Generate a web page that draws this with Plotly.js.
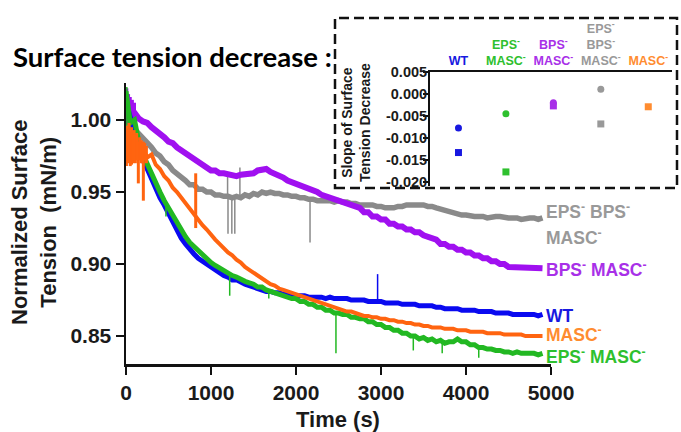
<!DOCTYPE html>
<html>
<head>
<meta charset="utf-8">
<script src="https://cdn.plot.ly/plotly-3.0.1.min.js"></script>
<style>html,body{margin:0;padding:0;background:#fff;}#chart{width:681px;height:432px;}</style>
</head>
<body>
<div id="chart"></div>
<script>
// ---------- main chart data ----------
const timeS = [0,50,100,150,200,250,300,350,400,450,500,550,600,650,700,750,800,850,900,950,
1000,1050,1100,1150,1200,1250,1300,1350,1400,1450,1500,1550,1600,1650,1700,1750,1800,1850,1900,1950,
2000,2050,2100,2150,2200,2250,2300,2350,2400,2450,2500,2550,2600,2650,2700,2750,2800,2850,2900,2950,
3000,3050,3100,3150,3200,3250,3300,3350,3400,3450,3500,3550,3600,3650,3700,3750,3800,3850,3900,3950,
4000,4050,4100,4150,4200,4250,4300,4350,4400,4450,4500,4550,4600,4650,4700,4750,4800,4850,4900];

const epsBpsMasc = [1.000,0.997,0.994,0.991,0.988,0.984,0.981,0.977,0.975,0.971,0.969,0.965,0.963,0.960,0.958,0.955,0.955,0.952,0.952,0.950,
0.950,0.948,0.948,0.947,0.947,0.946,0.947,0.946,0.948,0.947,0.949,0.948,0.950,0.949,0.950,0.949,0.949,0.948,0.948,0.947,
0.947,0.946,0.946,0.945,0.945,0.944,0.944,0.944,0.944,0.943,0.944,0.943,0.943,0.942,0.942,0.941,0.941,0.941,0.941,0.940,
0.940,0.939,0.939,0.939,0.940,0.940,0.941,0.941,0.941,0.941,0.941,0.940,0.940,0.939,0.938,0.937,0.936,0.935,0.935,0.934,
0.934,0.933,0.933,0.933,0.933,0.932,0.933,0.933,0.933,0.932,0.932,0.932,0.932,0.931,0.932,0.932,0.932,0.931,0.932];

const bpsMasc = [1.012,1.006,1.005,1.001,0.999,0.998,0.995,0.993,0.990,0.988,0.985,0.984,0.981,0.979,0.976,0.975,0.972,0.971,0.968,0.967,
0.965,0.965,0.963,0.963,0.962,0.962,0.961,0.962,0.962,0.963,0.963,0.965,0.965,0.966,0.964,0.963,0.961,0.960,0.958,0.957,
0.955,0.955,0.953,0.953,0.951,0.950,0.948,0.947,0.945,0.945,0.943,0.943,0.941,0.941,0.939,0.939,0.936,0.936,0.933,0.933,
0.931,0.931,0.928,0.928,0.926,0.926,0.924,0.924,0.922,0.922,0.920,0.919,0.917,0.917,0.914,0.914,0.912,0.912,0.910,0.910,
0.908,0.908,0.906,0.906,0.904,0.904,0.902,0.902,0.900,0.900,0.898,0.898,0.897,0.897,0.897,0.897,0.897,0.897,0.897];

const wt = [1.012,1.002,0.993,0.982,0.972,0.966,0.959,0.953,0.946,0.941,0.935,0.929,0.923,0.918,0.914,0.910,0.907,0.904,0.902,0.899,
0.897,0.895,0.894,0.892,0.891,0.889,0.889,0.887,0.886,0.885,0.884,0.883,0.882,0.881,0.881,0.880,0.880,0.879,0.879,0.878,
0.878,0.878,0.878,0.877,0.877,0.877,0.877,0.876,0.877,0.876,0.876,0.876,0.876,0.875,0.875,0.875,0.875,0.874,0.874,0.874,
0.874,0.873,0.873,0.873,0.873,0.872,0.872,0.872,0.872,0.871,0.871,0.871,0.871,0.870,0.870,0.869,0.869,0.869,0.869,0.868,
0.868,0.868,0.868,0.867,0.867,0.867,0.867,0.866,0.866,0.866,0.866,0.865,0.865,0.865,0.865,0.865,0.865,0.864,0.865];

const epsMasc = [1.020,0.998,1.000,0.985,0.976,0.969,0.962,0.955,0.950,0.944,0.939,0.933,0.928,0.923,0.919,0.915,0.912,0.909,0.906,0.904,
0.901,0.899,0.897,0.896,0.894,0.892,0.891,0.889,0.888,0.887,0.886,0.884,0.884,0.882,0.881,0.880,0.879,0.878,0.877,0.876,
0.876,0.874,0.874,0.872,0.872,0.870,0.870,0.868,0.868,0.866,0.866,0.865,0.865,0.863,0.863,0.862,0.862,0.860,0.860,0.858,
0.858,0.856,0.856,0.854,0.854,0.852,0.852,0.850,0.850,0.848,0.849,0.847,0.848,0.846,0.847,0.845,0.846,0.846,0.848,0.846,
0.846,0.844,0.844,0.842,0.842,0.841,0.841,0.840,0.840,0.839,0.839,0.838,0.839,0.838,0.838,0.838,0.838,0.837,0.838];

const masc = [0.990,0.980,0.985,0.975,0.980,0.974,0.976,0.969,0.966,0.961,0.958,0.953,0.950,0.946,0.942,0.938,0.934,0.931,0.927,0.924,
0.920,0.917,0.914,0.911,0.908,0.906,0.903,0.901,0.898,0.896,0.894,0.892,0.890,0.888,0.886,0.885,0.883,0.882,0.881,0.880,
0.879,0.878,0.877,0.876,0.875,0.874,0.873,0.872,0.871,0.870,0.869,0.868,0.867,0.867,0.866,0.865,0.864,0.864,0.863,0.863,
0.862,0.862,0.861,0.861,0.860,0.860,0.859,0.859,0.858,0.858,0.857,0.857,0.856,0.856,0.856,0.855,0.855,0.855,0.854,0.854,
0.854,0.853,0.853,0.853,0.853,0.852,0.852,0.852,0.852,0.851,0.851,0.851,0.851,0.851,0.850,0.850,0.850,0.850,0.850];

// short vertical excursions (spikes / early noise)
const epsBpsMascSpikeT = [1195,1195,null,1200,1200,null,1245,1245,null,1280,1280,null,1340,1340,null,2165,2165];
const epsBpsMascSpikeV = [0.962,0.947,null,0.947,0.921,null,0.947,0.921,null,0.947,0.921,null,0.947,0.967,null,0.946,0.915];
const bpsMascSpikeT = [10,10,null,30,30,null,50,50,null,75,75,null,100,100];
const bpsMascSpikeV = [0.997,1.022,null,0.998,1.018,null,0.996,1.016,null,0.996,1.014,null,0.997,1.012];
const wtSpikeT = [2960,2960];
const wtSpikeV = [0.875,0.893];
const epsMascSpikeT = [10,10,null,470,470,null,1220,1220,null,1680,1680,null,2470,2470,null,3380,3380,null,3720,3720,null,4150,4150];
const epsMascSpikeV = [0.995,1.023,null,0.944,0.933,null,0.894,0.878,null,0.882,0.876,null,0.866,0.838,null,0.850,0.840,null,0.847,0.838,null,0.842,0.835];
const mascSpikeT = [5,5,null,20,20,null,35,35,null,50,50,null,65,65,null,80,80,null,95,95,null,110,110,null,125,125,null,145,145,null,160,160,null,180,180,null,204,204,null,220,220,null,240,240,null,820,820];
const mascSpikeV = [0.968,0.996,null,0.970,0.994,null,0.972,0.998,null,0.968,0.992,null,0.969,0.995,null,0.970,0.990,null,0.972,0.993,null,0.970,0.990,null,0.972,0.991,null,0.956,0.985,null,0.972,0.988,null,0.970,0.986,null,0.944,0.985,null,0.972,0.984,null,0.970,0.982,null,0.925,0.963];

const mainXTicks = [0,1000,2000,3000,4000,5000];
const mainYTicks = [0.85,0.90,0.95,1.00];

// ---------- inset data ----------
const insetCategories = [0,1,2,3,4];
const insetLabels = ['WT','EPS- MASC-','BPS- MASC-','EPS- BPS- MASC-','MASC-'];
const insetCircle = [-0.0077,-0.0045,-0.0020,0.0011,null];
const insetSquare = [-0.0133,-0.0177,-0.0027,-0.0068,-0.0029];
const insetYTicks = [0.005,0.000,-0.005,-0.010,-0.015,-0.020];
const insetYTickText = ['0.005','0.000','-0.005','-0.010','-0.015','-0.020'];

// ---------- styling ----------
const C = {gray:'#8a8a8a', purple:'#a010f0', blue:'#0a0af0', green:'#22b822', orange:'#ff6410',
           iorange:'#ff8c30', igray:'#999999', ipurple:'#a830e8', igreen:'#2ec02e', iblue:'#1818e0'};
const FONT = 'Liberation Sans, Arial, Helvetica, sans-serif';
const W = 681, H = 432;
const px = v => v / W, py = v => 1 - v / H;

function line(x, y, color, width) {
  return {type:'scatter', mode:'lines', x:x, y:y, xaxis:'x', yaxis:'y',
          line:{color:color, width:width}, connectgaps:false, showlegend:false, hoverinfo:'skip'};
}

const traces = [
  line(timeS, epsBpsMasc, C.gray, 5.5),
  line(epsBpsMascSpikeT, epsBpsMascSpikeV, C.gray, 1.5),
  line(timeS, bpsMasc, C.purple, 6),
  line(bpsMascSpikeT, bpsMascSpikeV, C.purple, 3),
  line(timeS, wt, C.blue, 5),
  line(wtSpikeT, wtSpikeV, C.blue, 1.5),
  line(timeS, epsMasc, C.green, 5),
  line(epsMascSpikeT, epsMascSpikeV, C.green, 1.5),
  line(timeS, masc, C.orange, 4),
  line(mascSpikeT, mascSpikeV, C.orange, 3),
  {type:'scatter', mode:'markers', x:insetCategories, y:insetCircle, xaxis:'x2', yaxis:'y2',
   marker:{symbol:'circle', size:7, color:[C.iblue,C.igreen,C.ipurple,C.igray,C.iorange]}, showlegend:false},
  {type:'scatter', mode:'markers', x:insetCategories, y:insetSquare, xaxis:'x2', yaxis:'y2',
   marker:{symbol:'square', size:7, color:[C.iblue,C.igreen,C.ipurple,C.igray,C.iorange]}, showlegend:false}
];

function sp(color, t) { return '<span style="color:' + color + '">' + t + '</span>'; }
const insetTickText = [
  sp(C.iblue,'WT'),
  sp(C.igreen,'EPS<sup>-</sup>') + '<br>' + sp(C.igreen,'MASC<sup>-</sup>'),
  sp(C.ipurple,'BPS<sup>-</sup>') + '<br>' + sp(C.ipurple,'MASC<sup>-</sup>'),
  sp(C.igray,'EPS<sup>-</sup>') + '<br>' + sp(C.igray,'BPS<sup>-</sup>') + '<br>' + sp(C.igray,'MASC<sup>-</sup>'),
  sp(C.iorange,'MASC<sup>-</sup>')
];

const axisLine = {showline:true, linecolor:'#111', showgrid:false, zeroline:false};

function seriesLabel(text, yv, color) {
  return {xref:'x', yref:'y', x:4935, y:yv, xanchor:'left', yanchor:'middle', showarrow:false, borderpad:0,
          text:text, font:{family:FONT, size:17.5, weight:'bold', color:color}};
}

const layout = {
  width:W, height:H, margin:{l:0, r:0, t:0, b:0},
  paper_bgcolor:'#fff', plot_bgcolor:'rgba(0,0,0,0)',
  showlegend:false,
  title:{text:'Surface tension decrease :', x:px(13), xanchor:'left', xref:'paper',
         y:py(57), yanchor:'middle', yref:'paper',
         font:{family:'Lato, Open Sans, sans-serif', size:27.5, weight:'bold', color:'#000'}},
  xaxis:Object.assign({}, axisLine, {
    domain:[px(126), px(551)], range:[0,5000], anchor:'y', linewidth:2.5,
    ticks:'outside', ticklen:8, tickwidth:2.5, tickcolor:'#111',
    tickvals:mainXTicks, ticktext:mainXTicks.map(String),
    tickfont:{family:FONT, size:21, weight:'bold', color:'#1a1a1a'}
  }),
  yaxis:Object.assign({}, axisLine, {
    domain:[py(364), py(83)], range:[0.8306, 1.0257], anchor:'x', linewidth:2.5,
    ticks:'outside', ticklen:8, tickwidth:2.5, tickcolor:'#111',
    tickvals:mainYTicks, ticktext:mainYTicks.map(v => v.toFixed(2)),
    tickfont:{family:FONT, size:21, weight:'bold', color:'#1a1a1a'}
  }),
  xaxis2:Object.assign({}, axisLine, {
    domain:[px(430), px(672)], range:[-0.6, 4.5], anchor:'y2', side:'top', linewidth:2,
    ticks:'', tickvals:insetCategories, ticktext:insetTickText,
    tickfont:{family:FONT, size:12.5, weight:'bold', color:'#333'}
  }),
  yaxis2:Object.assign({}, axisLine, {
    domain:[py(186), py(72)], range:[-0.0209, 0.005], anchor:'x2', linewidth:2,
    ticks:'outside', ticklen:5, tickwidth:2, tickcolor:'#111', ticklabelstandoff:-7,
    tickvals:insetYTicks, ticktext:insetYTickText,
    tickfont:{family:FONT, size:14.5, weight:'bold', color:'#1a1a1a'}
  }),
  shapes:[
    {type:'rect', xref:'paper', yref:'paper', x0:px(335), x1:px(677), y0:py(188), y1:py(18),
     line:{color:'#111', width:2.5, dash:'10px,5px'}, fillcolor:'rgba(0,0,0,0)'}
  ],
  annotations:[
    {xref:'paper', yref:'paper', x:px(338), y:py(419), xanchor:'center', yanchor:'middle', showarrow:false,
     text:'Time (s)', font:{family:FONT, size:22, weight:'bold', color:'#1a1a1a'}},
    {xref:'paper', yref:'paper', x:px(34), y:py(223), xanchor:'center', yanchor:'middle', showarrow:false,
     textangle:-90, text:'Normalized Surface<br>Tension  (mN/m)',
     font:{family:FONT, size:22, weight:'bold', color:'#1a1a1a'}},
    {xref:'paper', yref:'paper', x:px(356), y:py(122), xanchor:'center', yanchor:'middle', showarrow:false,
     textangle:-90, text:'Slope of Surface<br>Tension Decrease',
     font:{family:FONT, size:14, weight:'bold', color:'#1a1a1a'}},
    seriesLabel('EPS<sup>-</sup> BPS<sup>-</sup>', 0.9368, C.igray),
    seriesLabel('MASC<sup>-</sup>', 0.9185, C.igray),
    seriesLabel('BPS<sup>-</sup> MASC<sup>-</sup>', 0.8965, C.ipurple),
    seriesLabel('WT', 0.8638, C.iblue),
    seriesLabel('MASC<sup>-</sup>', 0.8515, C.iorange),
    seriesLabel('EPS<sup>-</sup> MASC<sup>-</sup>', 0.8365, C.igreen)
  ]
};

Plotly.newPlot('chart', traces, layout, {staticPlot:true, displayModeBar:false});
</script>
</body>
</html>
